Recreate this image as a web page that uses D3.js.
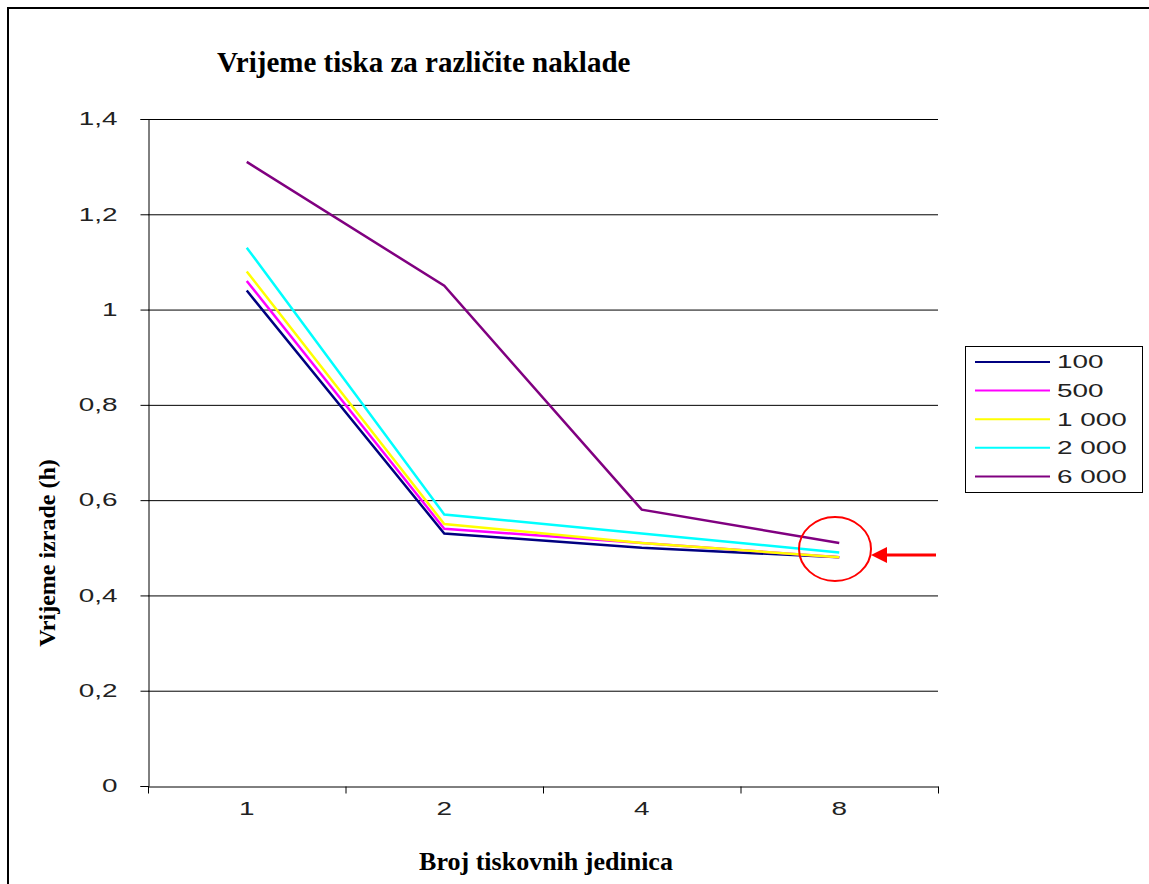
<!DOCTYPE html>
<meta charset="utf-8">
<style>
body { margin: 0; background: #fff; }
.tick text { font: 18px "Liberation Sans", Arial, sans-serif; fill: #222; }
.title, .axis-title { font-family: "Liberation Serif", "Times New Roman", serif; font-weight: bold; fill: #000; }
.legend text { font: 18px "Liberation Sans", Arial, sans-serif; fill: #222; }
</style>
<svg id="chart" width="1149" height="884"></svg>
<script src="https://d3js.org/d3.v7.min.js"></script>
<script>

var categories = ["1", "2", "4", "8"];
var seriesNames = ["100", "500", "1 000", "2 000", "6 000"];
var seriesColors = ["#000080", "#ff00ff", "#ffff00", "#00ffff", "#800080"];
var values100 = [1.04, 0.53, 0.50, 0.48];
var values500 = [1.06, 0.54, 0.51, 0.48];
var values1000 = [1.08, 0.55, 0.51, 0.48];
var values2000 = [1.13, 0.57, 0.53, 0.49];
var values6000 = [1.31, 1.05, 0.58, 0.51];
var yTicks = [0, 0.2, 0.4, 0.6, 0.8, 1, 1.2, 1.4];

var series = [values100, values500, values1000, values2000, values6000];

var svg = d3.select("#chart");
var stretch = 1.55; // the sans labels in the picture are drawn wide

// outer frame (only top and left edges show)
svg.append("path")
    .attr("d", "M8,884V8H1149")
    .attr("fill", "none")
    .attr("stroke", "#000")
    .attr("stroke-width", 2);

var plotLeft = 148, plotRight = 938, plotTop = 119, plotBottom = 786;

var x = d3.scaleBand()
    .domain(categories)
    .range([plotLeft, plotRight]);

var y = d3.scaleLinear()
    .domain([0, 1.4])
    .range([plotBottom, plotTop]);

// grid
svg.append("g")
    .selectAll("line")
    .data(yTicks.slice(1))
    .enter().append("line")
    .attr("x1", plotLeft).attr("x2", plotRight)
    .attr("y1", function(d) { return y(d) + 0.5; })
    .attr("y2", function(d) { return y(d) + 0.5; })
    .attr("stroke", "#000")
    .attr("stroke-width", 1);

var fmt = function(d) { return String(d).replace(".", ","); };

var yAxis = svg.append("g")
    .attr("transform", "translate(" + (plotLeft + 0.5) + ",0)")
    .call(d3.axisLeft(y).tickValues(yTicks).tickFormat(fmt).tickSize(8));
yAxis.select(".domain").attr("stroke", "#000");
yAxis.selectAll(".tick line").attr("stroke", "#000");
yAxis.selectAll(".tick text")
    .attr("x", -31 / stretch)
    .attr("transform", "scale(" + stretch + ",1)");

var xAxis = svg.append("g")
    .attr("transform", "translate(0," + (plotBottom + 0.5) + ")")
    .call(d3.axisBottom(x).tickSize(0).tickPadding(16));
xAxis.select(".domain").attr("stroke", "#000");
xAxis.selectAll(".tick text")
    .attr("transform", "scale(" + stretch + ",1)");

// ticks between categories
xAxis.selectAll("line.sep")
    .data(d3.range(categories.length + 1))
    .enter().append("line")
    .attr("class", "sep")
    .attr("x1", function(i) { return plotLeft + i * x.step() + 0.5; })
    .attr("x2", function(i) { return plotLeft + i * x.step() + 0.5; })
    .attr("y1", 0).attr("y2", 7)
    .attr("stroke", "#000");

var line = d3.line()
    .x(function(d, i) { return x(categories[i]) + x.bandwidth() / 2; })
    .y(function(d) { return y(d); });

svg.append("g")
    .selectAll("path")
    .data(series)
    .enter().append("path")
    .attr("d", line)
    .attr("fill", "none")
    .attr("stroke", function(d, i) { return seriesColors[i]; })
    .attr("stroke-width", 2.5);

// title and axis titles
svg.append("text")
    .attr("class", "title")
    .attr("x", 217).attr("y", 72)
    .style("font-size", "29px")
    .text("Vrijeme tiska za različite naklade");

svg.append("text")
    .attr("class", "axis-title")
    .attr("transform", "translate(55,553) rotate(-90)")
    .attr("text-anchor", "middle")
    .style("font-size", "24px")
    .text("Vrijeme izrade (h)");

svg.append("text")
    .attr("class", "axis-title")
    .attr("x", 546).attr("y", 870)
    .attr("text-anchor", "middle")
    .style("font-size", "26px")
    .text("Broj tiskovnih jedinica");

// legend
var legend = svg.append("g").attr("class", "legend");
legend.append("rect")
    .attr("x", 965.5).attr("y", 346.5)
    .attr("width", 177).attr("height", 146)
    .attr("fill", "#fff").attr("stroke", "#000");

var item = legend.selectAll("g.item")
    .data(seriesNames)
    .enter().append("g")
    .attr("class", "item")
    .attr("transform", function(d, i) { return "translate(0," + (362 + i * 28.6) + ")"; });
item.append("line")
    .attr("x1", 975).attr("x2", 1050)
    .attr("stroke", function(d, i) { return seriesColors[i]; })
    .attr("stroke-width", 2);
item.append("text")
    .attr("transform", "translate(1057,0) scale(" + stretch + ",1)")
    .attr("dy", "0.35em")
    .text(function(d) { return d; });

// highlight: circle at the last category and an arrow pointing at it
var cx = 835, cy = 549, arrowY = 555;
svg.append("ellipse")
    .attr("cx", cx).attr("cy", cy)
    .attr("rx", 36).attr("ry", 32)
    .attr("fill", "none").attr("stroke", "#ff0000").attr("stroke-width", 2);
svg.append("line")
    .attr("x1", 884).attr("x2", 936)
    .attr("y1", arrowY).attr("y2", arrowY)
    .attr("stroke", "#ff0000").attr("stroke-width", 3);
svg.append("path")
    .attr("d", "M871," + arrowY + "L887," + (arrowY - 8) + "L887," + (arrowY + 8) + "Z")
    .attr("fill", "#ff0000");

</script>
